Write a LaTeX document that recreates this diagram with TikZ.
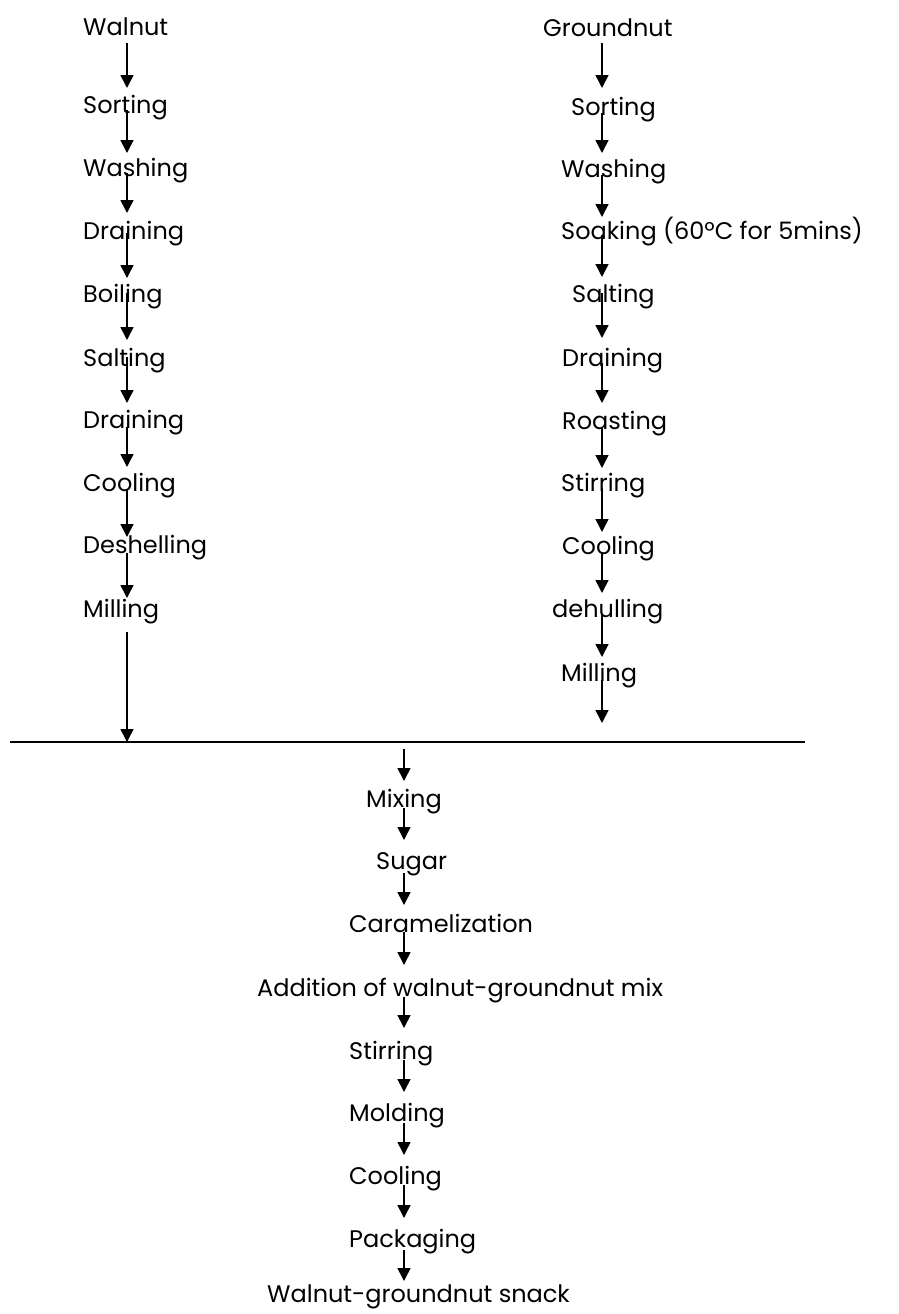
\documentclass[tikz,border=0pt]{standalone}
\usepackage{fontspec}
\setmainfont{Poppins}
\usetikzlibrary{arrows.meta,calc}
\begin{document}
\begin{tikzpicture}[
        x=1pt,y=-1pt,
        stage/.style={anchor=west,inner sep=0pt,text height=18pt,text depth=0pt,
                      font=\fontsize{24}{28}\selectfont},
        flow/.style={-{Triangle[length=13pt,width=13pt]},line width=1.6pt},
        bar/.style={line width=1.8pt},
        ]
    \useasboundingbox (0,0) rectangle (898,1314);
    % walnut line
    \coordinate (L) at (127,0);
    \node[stage] (w0) at (83,27)  {Walnut};
    \node[stage] (w1) at (83,104) {Sorting};
    \node[stage] (w2) at (83,167) {Washing};
    \node[stage] (w3) at (83,230) {Draining};
    \node[stage] (w4) at (83,293) {Boiling};
    \node[stage] (w5) at (83,357) {Salting};
    \node[stage] (w6) at (83,419) {Draining};
    \node[stage] (w7) at (83,482) {Cooling};
    \node[stage] (w8) at (83,544) {Deshelling};
    \node[stage] (w9) at (83,608) {Milling};
    % groundnut line
    \coordinate (R) at (602,0);
    \node[stage] (g0)  at (543,28)  {Groundnut};
    \node[stage] (g1)  at (571,106) {Sorting};
    \node[stage] (g2)  at (561,168) {Washing};
    \node[stage] (g3)  at (561,230) {Soaking (60ºC for 5mins)};
    \node[stage] (g4)  at (572,293) {Salting};
    \node[stage] (g5)  at (562,357) {Draining};
    \node[stage] (g6)  at (562,420) {Roasting};
    \node[stage] (g7)  at (561,482) {Stirring};
    \node[stage] (g8)  at (562,545) {Cooling};
    \node[stage] (g9)  at (552,608) {dehulling};
    \node[stage] (g10) at (561,672) {Milling};
    % joint line
    \coordinate (j0) at (10,742);
    \coordinate (j1) at (805,742);
    \coordinate (gend) at (602,723);
    \draw[bar] (j0) -- (j1);
    % snack line
    \coordinate (M) at (404,0);
    \node[stage] (m0) at (366,798)  {Mixing};
    \node[stage] (m1) at (376,860)  {Sugar};
    \node[stage] (m2) at (349,923)  {Caramelization};
    \node[stage] (m3) at (257,987)  {Addition of walnut-groundnut mix};
    \node[stage] (m4) at (349,1050) {Stirring};
    \node[stage] (m5) at (349,1112) {Molding};
    \node[stage] (m6) at (349,1175) {Cooling};
    \node[stage] (m7) at (349,1238) {Packaging};
    \node[stage] (m8) at (267,1293) {Walnut-groundnut snack};

    \foreach \a/\b/\s/\t in {w0/w1/16/-16, w1/w2/6/-14, w2/w3/6/-17,
            w3/w4/3/-15, w4/w5/0/-17, w5/w6/0/-16, w6/w7/8/-15,
            w7/w8/8/-7, w8/w9/9/-10}
        \draw[flow] ($(\a.center -| L)+(0,\s)$) -- ($(\b.center -| L)+(0,\t)$);
    \draw[flow] ($(w9.center -| L)+(0,24)$) -- (j0 -| L);

    \foreach \a/\b/\s/\t in {g0/g1/15/-18, g1/g2/7/-15, g2/g3/7/-13,
            g3/g4/5/-16, g4/g5/0/-19, g5/g6/6/-17, g6/g7/7/-14,
            g7/g8/6/-13, g8/g9/7/-15, g9/g10/7/-15}
        \draw[flow] ($(\a.center -| R)+(0,\s)$) -- ($(\b.center -| R)+(0,\t)$);
    \draw[flow] ($(g10.center -| R)+(0,8)$) -- (gend);

    \draw[flow] ($(j0 -| M)+(0,7)$) -- ($(m0.center -| M)+(0,-17)$);
    \foreach \a/\b/\s/\t in {m0/m1/10/-20, m1/m2/13/-18, m2/m3/9/-22,
            m3/m4/10/-22, m4/m5/10/-20, m5/m6/11/-20, m6/m7/10/-20,
            m7/m8/12/-12}
        \draw[flow] ($(\a.center -| M)+(0,\s)$) -- ($(\b.center -| M)+(0,\t)$);
\end{tikzpicture}
\end{document}
